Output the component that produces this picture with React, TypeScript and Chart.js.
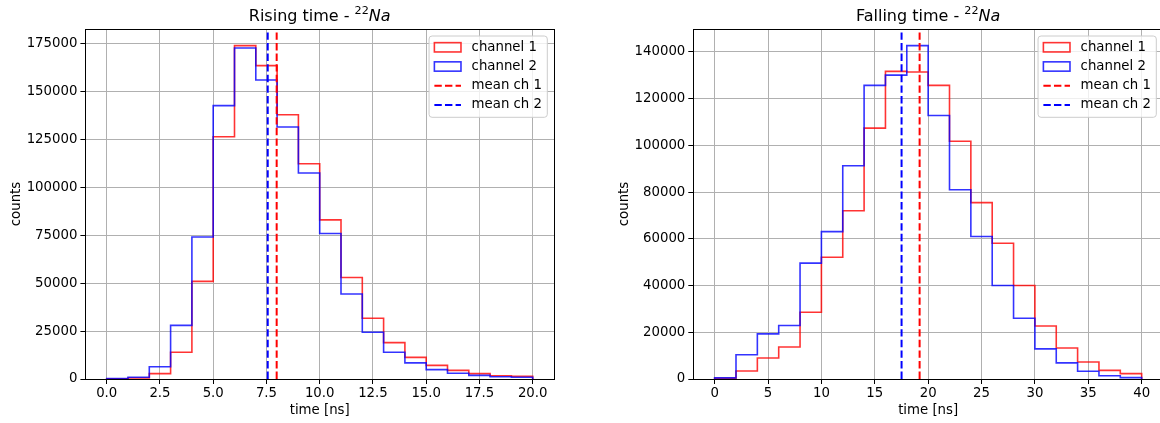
import React, { useEffect, useRef } from 'react';
import { Chart, registerables } from 'chart.js';

Chart.register(...registerables);

const FONT = '"DejaVu Sans", sans-serif';
const FS = 13.3;

// ---------- Rising time data ----------
const riseEdges = [0, 1, 2, 3, 4, 5, 6, 7, 8, 9, 10, 11, 12, 13, 14, 15, 16, 17, 18, 19, 20];
const riseCh1 = [100, 500, 2800, 14000, 51000, 126500, 174100, 163700, 138000, 112400, 83100, 53000, 31700, 19000, 11300, 7100, 4500, 2800, 1700, 1400];
const riseCh2 = [200, 900, 6400, 28000, 74200, 142800, 172900, 156200, 131600, 107600, 76000, 44400, 24400, 14000, 8400, 4900, 3000, 1900, 1200, 900];
const riseMean1 = 7.98;
const riseMean2 = 7.56;
const riseXTicks = [0, 2.5, 5, 7.5, 10, 12.5, 15, 17.5, 20];
const riseXTickLabels = ['0.0', '2.5', '5.0', '7.5', '10.0', '12.5', '15.0', '17.5', '20.0'];
const riseYTicks = [0, 25000, 50000, 75000, 100000, 125000, 150000, 175000];
const riseYTickLabels = ['0', '25000', '50000', '75000', '100000', '125000', '150000', '175000'];

// ---------- Falling time data ----------
const fallEdges = [0, 2, 4, 6, 8, 10, 12, 14, 16, 18, 20, 22, 24, 26, 28, 30, 32, 34, 36, 38, 40];
const fallCh1 = [300, 3400, 9000, 13700, 28600, 52100, 72000, 107400, 131700, 131400, 125700, 101800, 75500, 58100, 40000, 22700, 13300, 7300, 3700, 2300];
const fallCh2 = [500, 10400, 19300, 22900, 49600, 63100, 91300, 125700, 130100, 142700, 112800, 81000, 61000, 40000, 26000, 12900, 6900, 3300, 1400, 600];
const fallMean1 = 19.2;
const fallMean2 = 17.51;
const fallXTicks = [0, 5, 10, 15, 20, 25, 30, 35, 40];
const fallXTickLabels = ['0', '5', '10', '15', '20', '25', '30', '35', '40'];
const fallYTicks = [0, 20000, 40000, 60000, 80000, 100000, 120000, 140000];
const fallYTickLabels = ['0', '20000', '40000', '60000', '80000', '100000', '120000', '140000'];

const legendLabels = ['channel 1', 'channel 2', 'mean ch 1', 'mean ch 2'];

const RED_HIST = 'rgba(255,0,0,0.8)';
const BLUE_HIST = 'rgba(0,0,255,0.8)';
const RED = '#ff0000';
const BLUE = '#0000ff';
const DASH = [7.4, 3.2];

function histPoints(edges: number[], counts: number[]) {
  const pts: { x: number; y: number }[] = [{ x: edges[0], y: 0 }];
  counts.forEach((c, i) => {
    pts.push({ x: edges[i], y: c });
    pts.push({ x: edges[i + 1], y: c });
  });
  pts.push({ x: edges[edges.length - 1], y: 0 });
  return pts;
}

interface Params {
  titleMain: string;
  edges: number[];
  ch1: number[];
  ch2: number[];
  mean1: number;
  mean2: number;
  xTicks: number[];
  xTickLabels: string[];
  yTicks: number[];
  yTickLabels: string[];
  yAxisWidth: number;
  padRight: number;
}

function makeConfig(p: Params): any {
  const yMax = Math.max(...p.ch1, ...p.ch2) * 1.05;
  const span = p.edges[p.edges.length - 1] - p.edges[0];
  const xMin = p.edges[0] - 0.05 * span;
  const xMax = p.edges[p.edges.length - 1] + 0.05 * span;
  const font = { family: FONT, size: FS };

  const overlay = {
    id: 'overlay',
    afterDraw(chart: any) {
      const { ctx, chartArea: a } = chart;
      ctx.save();
      // frame (spines)
      ctx.strokeStyle = '#000';
      ctx.lineWidth = 1;
      ctx.strokeRect(Math.round(a.left) + 0.5, Math.round(a.top) + 0.5, Math.round(a.right) - Math.round(a.left), Math.round(a.bottom) - Math.round(a.top));

      // title with superscript + italic
      const cx = (a.left + a.right) / 2;
      const by = 21.3;
      ctx.fillStyle = '#000';
      ctx.textBaseline = 'alphabetic';
      ctx.textAlign = 'left';
      const mainFont = `16px ${FONT}`;
      const supFont = `11.2px ${FONT}`;
      const itFont = `italic 16px ${FONT}`;
      ctx.font = mainFont;
      const w1 = ctx.measureText(p.titleMain).width;
      ctx.font = supFont;
      const w2 = ctx.measureText('22').width;
      ctx.font = itFont;
      const w3 = ctx.measureText('Na').width;
      let x0 = cx - (w1 + w2 + w3) / 2;
      ctx.font = mainFont;
      ctx.fillText(p.titleMain, x0, by);
      x0 += w1;
      ctx.font = supFont;
      ctx.fillText('22', x0, by - 7.5);
      x0 += w2;
      ctx.font = itFont;
      ctx.fillText('Na', x0, by);

      // legend
      ctx.font = `${FS}px ${FONT}`;
      const tw = Math.max(...legendLabels.map((l) => ctx.measureText(l).width));
      const pad = 0.4 * FS;
      const hl = 2 * FS;
      const tp = 0.8 * FS;
      const bw = pad + hl + tp + tw + pad;
      const bh = 81.3;
      const bx = a.right - 6.7 - bw;
      const byy = a.top + 7;
      ctx.beginPath();
      const r = 3;
      ctx.moveTo(bx + r, byy);
      ctx.lineTo(bx + bw - r, byy);
      ctx.quadraticCurveTo(bx + bw, byy, bx + bw, byy + r);
      ctx.lineTo(bx + bw, byy + bh - r);
      ctx.quadraticCurveTo(bx + bw, byy + bh, bx + bw - r, byy + bh);
      ctx.lineTo(bx + r, byy + bh);
      ctx.quadraticCurveTo(bx, byy + bh, bx, byy + bh - r);
      ctx.lineTo(bx, byy + r);
      ctx.quadraticCurveTo(bx, byy, bx + r, byy);
      ctx.closePath();
      ctx.fillStyle = 'rgba(255,255,255,0.8)';
      ctx.fill();
      ctx.strokeStyle = '#cccccc';
      ctx.lineWidth = 1;
      ctx.stroke();

      const colors = [RED_HIST, BLUE_HIST, RED, BLUE];
      legendLabels.forEach((label, i) => {
        const cy = byy + 11.3 + i * 19.2;
        const hx = bx + pad;
        ctx.strokeStyle = colors[i];
        if (i < 2) {
          ctx.lineWidth = 1.6;
          ctx.setLineDash([]);
          ctx.strokeRect(hx, cy - 0.35 * FS, hl, 0.7 * FS);
        } else {
          ctx.lineWidth = 2;
          ctx.setLineDash(DASH);
          ctx.beginPath();
          ctx.moveTo(hx, cy);
          ctx.lineTo(hx + hl, cy);
          ctx.stroke();
          ctx.setLineDash([]);
        }
        ctx.fillStyle = '#000';
        ctx.textBaseline = 'middle';
        ctx.font = `${FS}px ${FONT}`;
        ctx.fillText(label, hx + hl + tp, cy);
      });
      ctx.restore();
    },
  };

  return {
    type: 'line',
    data: {
      datasets: [
        { label: 'channel 1', data: histPoints(p.edges, p.ch1), borderColor: RED_HIST, borderWidth: 1.6, pointRadius: 0, fill: false, tension: 0, order: 4 },
        { label: 'channel 2', data: histPoints(p.edges, p.ch2), borderColor: BLUE_HIST, borderWidth: 1.6, pointRadius: 0, fill: false, tension: 0, order: 3 },
        { label: 'mean ch 1', data: [{ x: p.mean1, y: 0 }, { x: p.mean1, y: yMax }], borderColor: RED, borderWidth: 2, borderDash: DASH, pointRadius: 0, fill: false, order: 2 },
        { label: 'mean ch 2', data: [{ x: p.mean2, y: 0 }, { x: p.mean2, y: yMax }], borderColor: BLUE, borderWidth: 2, borderDash: DASH, pointRadius: 0, fill: false, order: 1 },
      ],
    },
    options: {
      animation: false,
      responsive: false,
      maintainAspectRatio: false,
      parsing: false,
      events: [],
      layout: { padding: { left: 0, top: 29, right: p.padRight, bottom: 0 } },
      plugins: { legend: { display: false }, title: { display: false }, tooltip: { enabled: false } },
      scales: {
        x: {
          type: 'linear',
          min: xMin,
          max: xMax,
          afterBuildTicks: (s: any) => { s.ticks = p.xTicks.map((v) => ({ value: v })); },
          afterFit: (s: any) => { s.height = 44; },
          ticks: { callback: (_v: any, i: number) => p.xTickLabels[i], font, color: '#000', padding: 2, maxRotation: 0, autoSkip: false },
          grid: { color: '#b0b0b0', lineWidth: 1, tickColor: '#000', tickLength: 5, drawTicks: true },
          border: { display: false },
          title: { display: true, text: 'time [ns]', font, color: '#000', padding: { top: 0, bottom: 4 } },
        },
        y: {
          type: 'linear',
          min: 0,
          max: yMax,
          afterBuildTicks: (s: any) => { s.ticks = p.yTicks.map((v) => ({ value: v })); },
          afterFit: (s: any) => { s.width = p.yAxisWidth; },
          ticks: { callback: (_v: any, i: number) => p.yTickLabels[i], font, color: '#000', padding: 3, autoSkip: false },
          grid: { color: '#b0b0b0', lineWidth: 1, tickColor: '#000', tickLength: 5, drawTicks: true },
          border: { display: false },
          title: { display: true, text: 'counts', font, color: '#000', padding: { top: 9, bottom: 0 } },
        },
      },
    },
    plugins: [overlay],
  };
}

function HistChart({ params, left }: { params: Params; left: number }) {
  const ref = useRef<HTMLCanvasElement>(null);
  useEffect(() => {
    if (!ref.current) return;
    const chart = new Chart(ref.current, makeConfig(params));
    return () => chart.destroy();
  }, [params]);
  return (
    <canvas
      ref={ref}
      width={580}
      height={423}
      style={{ position: 'absolute', left, top: 0, width: 580, height: 423, display: 'block' }}
    />
  );
}

const riseParams: Params = {
  titleMain: 'Rising time - ',
  edges: riseEdges,
  ch1: riseCh1,
  ch2: riseCh2,
  mean1: riseMean1,
  mean2: riseMean2,
  xTicks: riseXTicks,
  xTickLabels: riseXTickLabels,
  yTicks: riseYTicks,
  yTickLabels: riseYTickLabels,
  yAxisWidth: 85.4,
  padRight: 26,
};

const fallParams: Params = {
  titleMain: 'Falling time - ',
  edges: fallEdges,
  ch1: fallCh1,
  ch2: fallCh2,
  mean1: fallMean1,
  mean2: fallMean2,
  xTicks: fallXTicks,
  xTickLabels: fallXTickLabels,
  yTicks: fallYTicks,
  yTickLabels: fallYTickLabels,
  yAxisWidth: 85.3,
  padRight: 25,
};

export default function App() {
  return (
    <div style={{ position: 'fixed', left: 0, top: 0, width: 1160, height: 423, overflow: 'hidden', background: '#fff' }}>
      <HistChart params={riseParams} left={0} />
      <HistChart params={fallParams} left={608} />
    </div>
  );
}
